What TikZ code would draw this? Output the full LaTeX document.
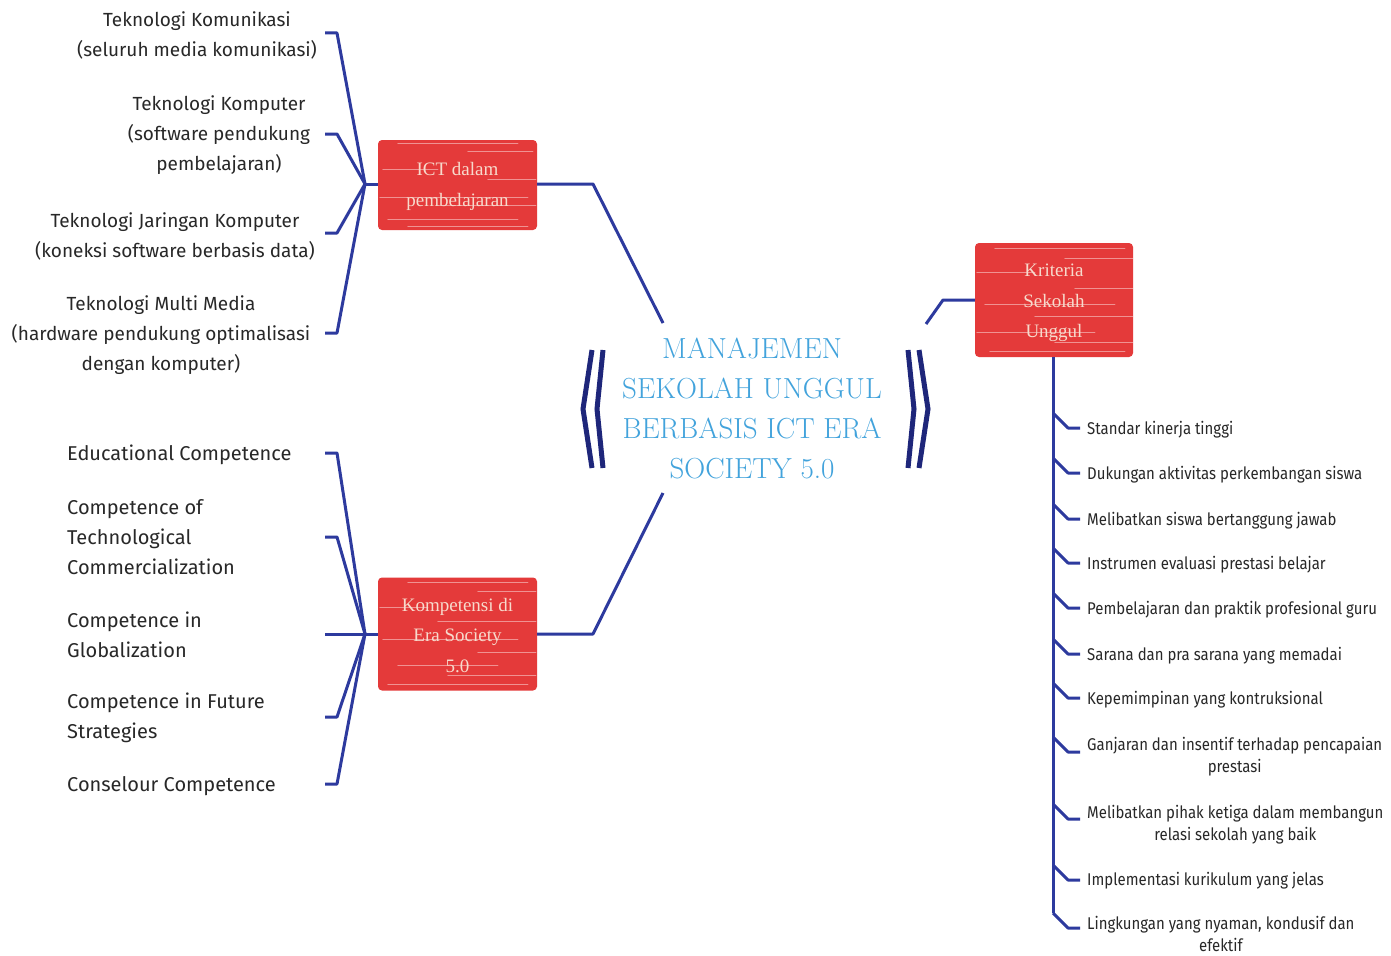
\documentclass[tikz,border=0pt]{standalone}
\usepackage{fontspec}
\newfontfamily\labfont{Fira Sans}
\newfontfamily\condfont{Fira Sans}[FakeStretch=0.88]
\newfontfamily\boxfont{Liberation Serif}
\definecolor{linkblue}{RGB}{45,58,158}
\definecolor{navy}{RGB}{30,38,122}
\definecolor{boxred}{RGB}{228,58,58}
\definecolor{boxtext}{RGB}{247,218,204}
\definecolor{titleblue}{RGB}{66,163,220}
\definecolor{labgray}{RGB}{40,40,40}
\tikzset{
  conn/.style={draw=linkblue, line width=3pt, line join=round},
  brack/.style={draw=navy, line width=5pt, line join=miter},
  redbox/.style={fill=boxred, rounded corners=4pt, inner sep=0pt},
  boxlab/.style={text=boxtext, align=center, font=\boxfont\fontsize{19}{30.5}\selectfont, inner sep=0pt},
  llab/.style={font=\labfont\fontsize{19}{30}\selectfont, text=labgray, align=center, inner sep=0pt},
  klab/.style={font=\labfont\fontsize{20}{30}\selectfont, text=labgray, align=left, anchor=west, inner sep=0pt},
  rlab/.style={font=\condfont\fontsize{17}{22}\selectfont, text=labgray, align=center, anchor=west, inner sep=0pt},
  streak/.style={draw=white, opacity=0.45, line width=0.9pt, line cap=round},
}
\newcommand\brushstreaks[2]{%
  \begin{scope}[shift={(#1.north west)}]
    \foreach \yy/\aa/\bb in {#2} \draw[streak] (\aa,\yy) -- (\bb,\yy);
  \end{scope}}
\begin{document}
\begin{tikzpicture}[x=1pt,y=-1pt]
\useasboundingbox[fill=white] (0,0) rectangle (1391,955);

% ---------- central title ----------
\node[text=titleblue, align=center, font=\fontsize{29}{40}\selectfont, inner sep=0pt] (title) at (752,408)
  {MANAJEMEN\\SEKOLAH UNGGUL\\BERBASIS ICT ERA\\SOCIETY 5.0};
\draw[brack] (592,350) -- (583,409) -- (592,468);
\draw[brack] (603,350) -- (597,409) -- (603,468);
\draw[brack] (908,350) -- (914,409) -- (908,468);
\draw[brack] (919,350) -- (928,409) -- (919,468);

% ---------- red boxes ----------
\node[redbox, minimum width=159pt, minimum height=90pt] (ict) at (457.5,185) {};
\node[redbox, minimum width=159pt, minimum height=113pt] (komp) at (457.5,634) {};
\node[redbox, minimum width=158pt, minimum height=114pt] (krit) at (1054,300) {};
\brushstreaks{ict}{4/20/140, 12/90/155, 30/5/60, 40/110/158, 58/2/150, 66/60/158, 80/10/140, 87/30/150}
\brushstreaks{komp}{5/30/150, 14/100/158, 30/2/50, 44/60/158, 62/5/140, 75/100/158, 88/20/120, 98/70/158, 107/10/150}
\brushstreaks{krit}{6/20/150, 16/90/158, 30/2/60, 46/100/158, 62/10/140, 74/60/158, 90/2/120, 100/80/158, 109/15/150}
\node[boxlab] (ictlab) at (457.5,186.5) {ICT dalam\\pembelajaran};
\node[boxlab] (komplab) at (457.5,635.5) {Kompetensi di\\Era Society\\5.0};
\node[boxlab] (kritlab) at (1054,303) {Kriteria\\Sekolah\\Unggul};

% ---------- main connectors ----------
\coordinate (ictbend) at (593,184);
\coordinate (ictend) at (663,323);
\coordinate (kompbend) at (593,634);
\coordinate (kompend) at (663,493);
\coordinate (kritstart) at (926,324);
\coordinate (kritbend) at (943,300);
\draw[conn] (ict.east |- ictbend) -- (ictbend) -- (ictend);
\draw[conn] (komp.east |- kompbend) -- (kompbend) -- (kompend);
\draw[conn] (kritstart) -- (kritbend) -- (krit.west |- kritbend);

% ---------- ICT branches ----------
\coordinate (hubA) at (365,184);
\draw[conn] (ict.west |- hubA) -- (hubA);
\node[llab] (t1) at (197,35) {Teknologi Komunikasi\\(seluruh media komunikasi)};
\node[llab] (t2) at (219,135) {Teknologi Komputer\\(software pendukung\\pembelajaran)};
\node[llab] (t3) at (175,236) {Teknologi Jaringan Komputer\\(koneksi software berbasis data)};
\node[llab] (t4) at (161,335) {Teknologi Multi Media\\(hardware pendukung optimalisasi\\dengan komputer)};
\foreach \yy/\nm in {33/s1,134/s2,233/s3,333/s4} {
  \coordinate (\nm) at (325,\yy);
  \draw[conn] (\nm) -- ++(12,0) -- (hubA);
}

% ---------- Kompetensi branches ----------
\coordinate (hubB) at (365,634);
\draw[conn] (komp.west |- hubB) -- (hubB);
\node[klab] (k1) at (67,455) {Educational Competence};
\node[klab] (k2) at (67,537) {Competence of\\Technological\\Commercialization};
\node[klab] (k3) at (67,635) {Competence in\\Globalization};
\node[klab] (k4) at (67,718) {Competence in Future\\Strategies};
\node[klab] (k5) at (67,786) {Conselour Competence};
\foreach \yy/\nm in {453/b1,537/b2,717/b4,784/b5} {
  \coordinate (\nm) at (325,\yy);
  \draw[conn] (\nm) -- ++(12,0) -- (hubB);
}
\coordinate (b3) at (325,634);
\draw[conn] (b3) -- (hubB);

% ---------- Kriteria list ----------
\coordinate (trunkend) at (1053,913);
\draw[conn] (krit.south -| trunkend) -- (trunkend);
\foreach \by/\nm in {428/r1,473/r2,519/r3,563/r4,608/r5,654/r6,698/r7,752/r8,819/r9,880/r10,928/r11} {
  \coordinate (\nm) at (1080,\by);
  \draw[conn] (1053,\by-15) -- (1068,\by) -- (\nm);
}
\node[rlab] (l1) at (1087,430) {Standar kinerja tinggi};
\node[rlab] (l2) at (1087,475) {Dukungan aktivitas perkembangan siswa};
\node[rlab] (l3) at (1087,521) {Melibatkan siswa bertanggung jawab};
\node[rlab] (l4) at (1087,565) {Instrumen evaluasi prestasi belajar};
\node[rlab] (l5) at (1087,610) {Pembelajaran dan praktik profesional guru};
\node[rlab] (l6) at (1087,656) {Sarana dan pra sarana yang memadai};
\node[rlab] (l7) at (1087,700) {Kepemimpinan yang kontruksional};
\node[rlab] (l8) at (1087,757) {Ganjaran dan insentif terhadap pencapaian\\prestasi};
\node[rlab] (l9) at (1087,825) {Melibatkan pihak ketiga dalam membangun\\relasi sekolah yang baik};
\node[rlab] (l10) at (1087,881) {Implementasi kurikulum yang jelas};
\node[rlab] (l11) at (1087,934) {Lingkungan yang nyaman, kondusif dan\\efektif};
\end{tikzpicture}
\end{document}
